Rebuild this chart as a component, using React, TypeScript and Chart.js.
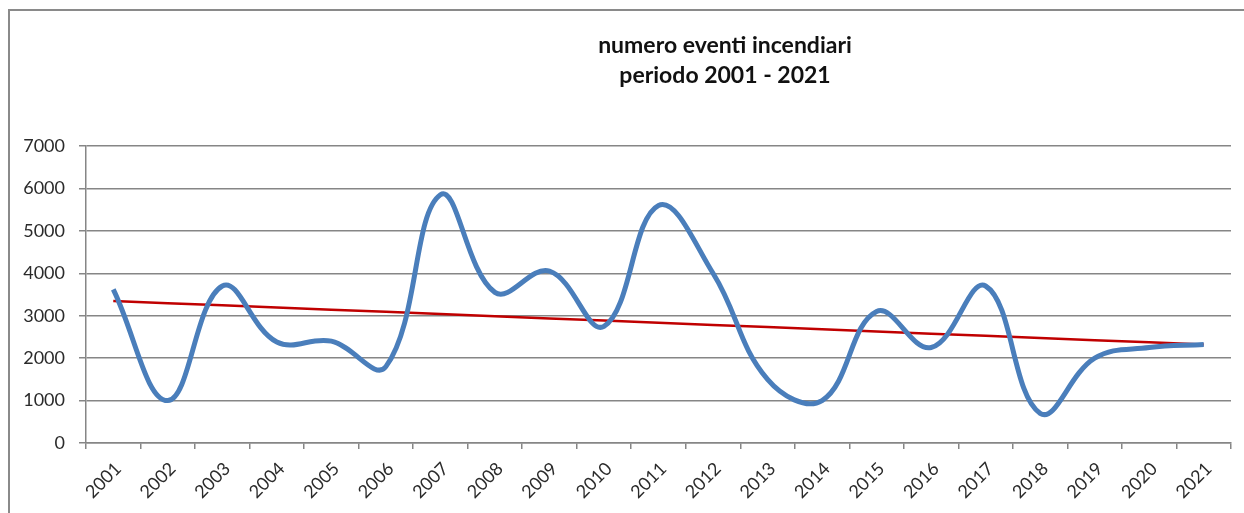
import React, { useEffect, useRef } from "react";
import { Chart, registerables } from "chart.js";

Chart.register(...registerables);

const years = [
  "2001", "2002", "2003", "2004", "2005", "2006", "2007", "2008", "2009", "2010", "2011",
  "2012", "2013", "2014", "2015", "2016", "2017", "2018", "2019", "2020", "2021",
];

const events = [
  3620, 1000, 3700, 2380, 2400, 1800, 5850, 3550, 4050, 2750, 5600,
  4000, 1500, 1000, 3100, 2250, 3700, 700, 2000, 2250, 2320,
];

const yTicks = [0, 1000, 2000, 3000, 4000, 5000, 6000, 7000];

const titleLines = ["numero eventi incendiari", "periodo 2001 - 2021"];

// Linear trend (least squares) of the event counts, as drawn by the spreadsheet
function linearTrend(values: number[]): number[] {
  const n = values.length;
  let sx = 0, sy = 0, sxx = 0, sxy = 0;
  values.forEach((v, i) => {
    sx += i; sy += v; sxx += i * i; sxy += i * v;
  });
  const slope = (n * sxy - sx * sy) / (n * sxx - sx * sx);
  const intercept = (sy - slope * sx) / n;
  return values.map((_, i) => intercept + slope * i);
}

const GRID = "#868686";
const TEXT = "#2b2b2b";
const FONT = "Lato";

const framePlugin = {
  id: "frame",
  beforeDraw(chart: any) {
    const ctx = chart.ctx;
    ctx.save();
    ctx.fillStyle = "#ffffff";
    ctx.fillRect(0, 0, chart.width, chart.height);
    ctx.strokeStyle = "#8a8a8a";
    ctx.lineWidth = 2;
    ctx.beginPath();
    ctx.moveTo(9, chart.height + 2);
    ctx.lineTo(9, 10);
    ctx.lineTo(chart.width + 2, 10);
    ctx.stroke();
    ctx.restore();
  },
};

const titlePlugin = {
  id: "customTitle",
  afterDraw(chart: any) {
    const ctx = chart.ctx;
    ctx.save();
    ctx.fillStyle = "#111111";
    ctx.font = `bold 23px ${FONT}`;
    ctx.textAlign = "center";
    ctx.textBaseline = "alphabetic";
    titleLines.forEach((line, i) => {
      ctx.fillText(line, 725, 53 + i * 30);
    });
    ctx.restore();
  },
};

export default function App() {
  const canvasRef = useRef<HTMLCanvasElement | null>(null);

  useEffect(() => {
    if (!canvasRef.current) return;
    const chart = new Chart(canvasRef.current, {
      type: "line",
      data: {
        labels: years,
        datasets: [
          {
            label: "numero eventi",
            data: events,
            borderColor: "#4a7ebb",
            borderWidth: 5,
            pointRadius: 0,
            tension: 0.4,
            fill: false,
          },
          {
            label: "Lineare",
            data: linearTrend(events),
            borderColor: "#c00000",
            borderWidth: 2.5,
            pointRadius: 0,
            tension: 0,
            fill: false,
          },
        ],
      },
      plugins: [framePlugin, titlePlugin],
      options: {
        responsive: false,
        animation: false,
        events: [],
        layout: { padding: { left: 0, right: 13, top: 146, bottom: 0 } },
        plugins: {
          legend: { display: false },
          tooltip: { enabled: false },
          title: { display: false },
        },
        scales: {
          x: {
            offset: true,
            grid: {
              offset: true,
              drawOnChartArea: false,
              drawTicks: true,
              tickLength: 6,
              color: GRID,
              lineWidth: 1.5,
            },
            border: { display: true, color: GRID, width: 1.5 },
            ticks: {
              autoSkip: false,
              maxRotation: 45,
              minRotation: 45,
              padding: 9,
              labelOffset: 5,
              color: TEXT,
              font: { family: FONT, size: 18 },
            },
            afterFit: (s: any) => {
              s.height = 70;
            },
          },
          y: {
            min: 0,
            max: 7000,
            afterBuildTicks: (s: any) => {
              s.ticks = yTicks.map((v) => ({ value: v }));
            },
            grid: {
              color: GRID,
              lineWidth: 1.5,
              drawTicks: true,
              tickLength: 7,
            },
            border: { display: true, color: GRID, width: 1.5 },
            ticks: {
              padding: 14,
              color: TEXT,
              font: { family: FONT, size: 18 },
              callback: (v: any) => String(v),
            },
            afterFit: (s: any) => {
              s.width = 86;
            },
          },
        },
      },
    });
    return () => chart.destroy();
  }, []);

  return (
    <div style={{ position: "fixed", left: 0, top: 0, width: 1244, height: 513, overflow: "hidden", background: "#fff" }}>
      <canvas ref={canvasRef} width={1244} height={513} style={{ display: "block", width: 1244, height: 513 }} />
    </div>
  );
}
